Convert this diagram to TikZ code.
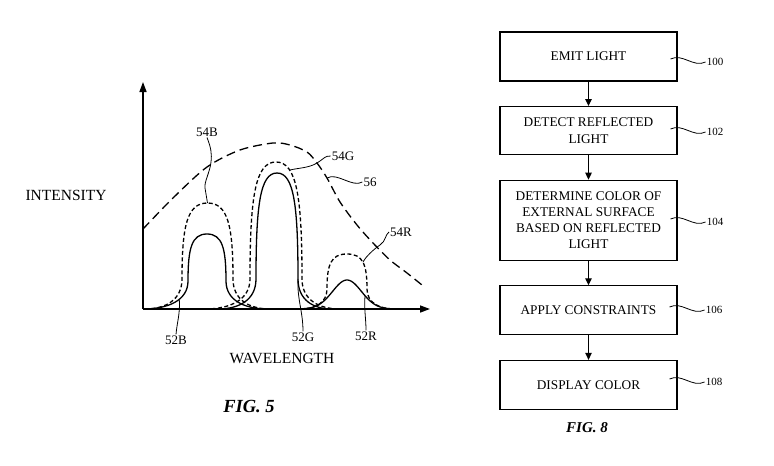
\documentclass[tikz,border=0pt]{standalone}
\usepackage{fontspec}
\setmainfont{Liberation Serif}
\usetikzlibrary{arrows.meta,positioning}

\tikzset{
  stepbox/.style={draw, line width=1.1pt, minimum width=177pt, minimum height=49pt,
    align=center, inner sep=2pt, font=\fontsize{13.3}{16.3}\selectfont},
  flow/.style={line width=1.1pt, -{Triangle[length=7pt,width=6.5pt]}},
  axis/.style={line width=1.5pt, -{Triangle[length=10pt,width=7pt]}},
  leader/.style={line width=0.8pt},
  refnum/.style={font=\fontsize{11}{13}\selectfont, inner sep=1pt},
  curvelabel/.style={font=\fontsize{13}{15}\selectfont, inner sep=1pt},
  axislabel/.style={font=\fontsize{15.5}{18}\selectfont},
  peakline/.style={line width=1.3pt},
  peakdash/.style={line width=1.3pt, dash pattern=on 4pt off 2.5pt},
  envelope/.style={line width=1.3pt, dash pattern=on 9pt off 5pt},
}

% bell shaped peak: [options]{centre}{height}{half width}{shoulder}{left foot}{right foot}
\newcommand{\bellcurve}[7][]{%
  \draw[#1] (#6,309)
    .. controls ({#2-#4-0.45*(#2-#4-#6)},309) and ({#2-#4},{309-0.3*#5}) .. ({#2-#4},{309-#5})
    .. controls ({#2-#4},{309-#3+0.3*(#3-#5)}) and ({#2-0.8*#4},{309-#3}) .. ({#2},{309-#3})
    .. controls ({#2+0.8*#4},{309-#3}) and ({#2+#4},{309-#3+0.3*(#3-#5)}) .. ({#2+#4},{309-#5})
    .. controls ({#2+#4},{309-0.3*#5}) and ({#2+#4+0.45*(#7-#2-#4)},309) .. (#7,309);}

% wavy lead line from a reference numeral back into its box
\newcommand{\refleader}[1]{%
  \draw[leader] (#1.west) .. controls +(-12,6) and +(12,-6) .. ++(-35,-3);}

\begin{document}
\begin{tikzpicture}[x=1pt, y=-1pt, node distance=24.5pt]
  \useasboundingbox (0,0) rectangle (774,466);

  % ---------------- FIG. 5 ----------------
  % Axes
  \coordinate (origin) at (143,309);
  \coordinate (ytop) at (143,82);
  \coordinate (xend) at (430,309);
  \draw[axis] (origin) -- (ytop);
  \draw[axis] (origin) -- (xend);

  \node[axislabel] (intensity) at (66,195) {INTENSITY};
  \node[axislabel] (wavelength) at (282,358) {WAVELENGTH};

  % Source spectrum 56
  \draw[envelope] plot[smooth] coordinates {(143,229) (173,198) (207,167) (240,150)
    (273,143) (290,145) (307,152) (317,163) (327,178) (340,202) (357,225)
    (373,243) (390,260) (407,273) (422,285)};

  % Detected peaks 52 (solid) and reference peaks 54 (dashed)
  \bellcurve[peakline]{207}{75}{19}{28}{143}{268}
  \bellcurve[peakdash]{207.5}{106}{25.5}{30}{145}{270}
  \bellcurve[peakline]{277}{136}{21}{30}{218}{332}
  \bellcurve[peakdash]{276}{147}{26}{30}{205}{340}
  \draw[peakline] plot[domain=300:394, samples=80, smooth]
    (\x, {309-29*exp(-(\x-347)*(\x-347)/416)});
  \bellcurve[peakdash]{347}{55}{20}{20}{300}{395}

  % Points the lead lines touch
  \coordinate (b54) at (207.5,203);
  \coordinate (g54) at (290,170);
  \coordinate (r54) at (363,262.3);
  \coordinate (e56) at (327,178);
  \coordinate (b52) at (179.3,299.4);
  \coordinate (g52) at (298,279);
  \coordinate (r52) at (365,295.7);

  % Reference numerals
  \node[curvelabel] (l54B) at (207,132) {54B};
  \node[curvelabel] (l54G) at (343,156) {54G};
  \node[curvelabel] (l56) at (370,182) {56};
  \node[curvelabel] (l54R) at (401,232) {54R};
  \node[curvelabel] (l52B) at (176,340) {52B};
  \node[curvelabel] (l52G) at (303,337) {52G};
  \node[curvelabel] (l52R) at (366,336) {52R};

  \draw[leader] (l54B.south) .. controls +(4,10) and +(1,-8) .. (211,162)
    .. controls +(-1,10) and +(-1,-6) .. (205,188) .. controls +(1,6) .. (b54);
  \draw[leader] (l54G.west) .. controls +(-6,0) and +(8,-5) .. (317,163)
    .. controls +(-8,5) and +(8,-2) .. (g54);
  \draw[leader] (l56.west) .. controls +(-10,6) and +(10,-6) .. (e56);
  \draw[leader] (l54R.west) .. controls +(-4,3) and +(6,-4) .. (380,245)
    .. controls +(-6,4) and +(2,-5) .. (r54);
  \draw[leader] (b52) .. controls +(1,14) and +(1,-12) .. (l52B.north);
  \draw[leader] (g52) .. controls +(-1,20) and +(0,-20) .. (l52G.north);
  \draw[leader] (r52) .. controls +(-1,14) and +(0,-12) .. (l52R.north);

  \node[font=\bfseries\itshape\fontsize{18.5}{22}\selectfont] (fig5) at (249,407) {FIG. 5};

  % ---------------- FIG. 8 ----------------
  \node[stepbox] (emit) at (588.5,56.5) {EMIT LIGHT};
  \node[stepbox, minimum height=48pt, below=of emit] (detect) {DETECT REFLECTED\\LIGHT};
  \node[stepbox, minimum height=80pt, below=of detect] (determine)
    {DETERMINE COLOR OF\\EXTERNAL SURFACE\\BASED ON REFLECTED\\LIGHT};
  \node[stepbox, below=of determine] (constrain) {APPLY CONSTRAINTS};
  \node[stepbox, below=of constrain] (display) {DISPLAY COLOR};

  \draw[flow] (emit) -- (detect);
  \draw[flow] (detect) -- (determine);
  \draw[flow] (determine) -- (constrain);
  \draw[flow] (constrain) -- (display);

  \node[refnum] (n100) at (715,62) {100};
  \node[refnum] (n102) at (715,132) {102};
  \node[refnum] (n104) at (715,222) {104};
  \node[refnum] (n106) at (714,310) {106};
  \node[refnum] (n108) at (714,382) {108};
  \refleader{n100}
  \refleader{n102}
  \refleader{n104}
  \refleader{n106}
  \refleader{n108}

  \node[font=\bfseries\itshape\fontsize{15}{18}\selectfont] (fig8) at (587,428) {FIG. 8};
\end{tikzpicture}
\end{document}
